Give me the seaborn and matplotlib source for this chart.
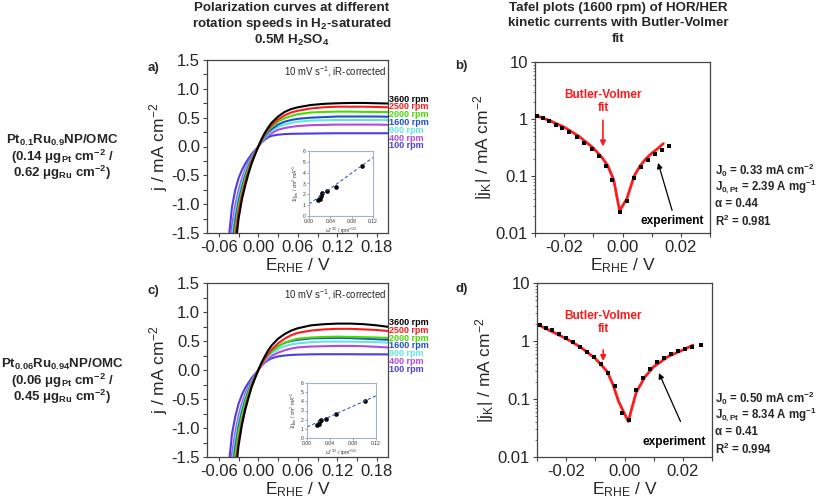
import numpy as np
import pandas as pd
import matplotlib
matplotlib.use("Agg")
import matplotlib.pyplot as plt
import seaborn as sns
from matplotlib.ticker import FixedLocator, FormatStrFormatter, LogLocator, NullFormatter, MultipleLocator

# ---------------- data ----------------
rpm_labels = ["3600 rpm", "2500 rpm", "2000 rpm", "1600 rpm", "900 rpm", "400 rpm", "100 rpm"]
rpm_colors = ["#000000", "#ff1a1a", "#44dd00", "#1f4fd0", "#5fe8e0", "#b448e6", "#4a3fe0"]

E_pol = [-0.05, -0.045, -0.04, -0.035, -0.03, -0.025, -0.02, -0.015, -0.01, -0.005, 0.0,
         0.005, 0.01, 0.015, 0.02, 0.03, 0.04, 0.05, 0.06, 0.08, 0.10, 0.12, 0.14, 0.16, 0.18, 0.20]

j_a_3600 = [-3.6, -2.9, -2.3, -1.75, -1.25, -0.92, -0.68, -0.47, -0.29, -0.14, 0.0,
            0.13, 0.24, 0.33, 0.41, 0.52, 0.60, 0.65, 0.68, 0.72, 0.74, 0.75, 0.755, 0.755, 0.75, 0.745]
j_a_2500 = [-3.3, -2.65, -2.05, -1.55, -1.13, -0.85, -0.62, -0.43, -0.26, -0.13, 0.0,
            0.12, 0.22, 0.30, 0.37, 0.47, 0.54, 0.59, 0.62, 0.66, 0.68, 0.69, 0.69, 0.69, 0.685, 0.68]
j_a_2000 = [-3.0, -2.4, -1.85, -1.40, -1.03, -0.77, -0.56, -0.38, -0.23, -0.115, 0.0,
            0.11, 0.20, 0.28, 0.34, 0.43, 0.49, 0.53, 0.56, 0.59, 0.60, 0.605, 0.605, 0.60, 0.60, 0.595]
j_a_1600 = [-2.8, -2.25, -1.72, -1.28, -0.95, -0.71, -0.51, -0.35, -0.21, -0.105, 0.0,
            0.10, 0.18, 0.25, 0.30, 0.38, 0.43, 0.46, 0.48, 0.50, 0.51, 0.52, 0.52, 0.52, 0.52, 0.515]
j_a_900 = [-2.6, -2.05, -1.55, -1.15, -0.85, -0.63, -0.45, -0.31, -0.19, -0.095, 0.0,
           0.09, 0.16, 0.22, 0.27, 0.34, 0.38, 0.41, 0.43, 0.45, 0.455, 0.46, 0.46, 0.46, 0.46, 0.455]
j_a_400 = [-2.45, -1.85, -1.38, -1.02, -0.76, -0.56, -0.40, -0.27, -0.165, -0.085, 0.0,
           0.08, 0.14, 0.19, 0.23, 0.29, 0.32, 0.34, 0.355, 0.37, 0.375, 0.38, 0.38, 0.38, 0.38, 0.375]
j_a_100 = [-2.25, -1.6, -1.05, -0.75, -0.55, -0.41, -0.30, -0.21, -0.13, -0.065, 0.0,
           0.07, 0.12, 0.16, 0.185, 0.205, 0.215, 0.22, 0.222, 0.225, 0.228, 0.23, 0.23, 0.23, 0.23, 0.23]

j_c_3600 = [-3.7, -3.0, -2.35, -1.80, -1.30, -0.95, -0.69, -0.48, -0.29, -0.14, 0.0,
            0.13, 0.24, 0.34, 0.42, 0.54, 0.62, 0.68, 0.72, 0.77, 0.79, 0.80, 0.80, 0.79, 0.77, 0.74]
j_c_2500 = [-3.5, -2.8, -2.2, -1.70, -1.22, -0.90, -0.66, -0.45, -0.27, -0.13, 0.0,
            0.11, 0.20, 0.28, 0.35, 0.46, 0.54, 0.60, 0.64, 0.68, 0.70, 0.71, 0.71, 0.70, 0.69, 0.67]
j_c_2000 = [-3.1, -2.5, -1.92, -1.45, -1.06, -0.79, -0.57, -0.39, -0.24, -0.12, 0.0,
            0.11, 0.19, 0.26, 0.32, 0.41, 0.47, 0.51, 0.54, 0.56, 0.57, 0.575, 0.57, 0.565, 0.56, 0.55]
j_c_1600 = [-2.9, -2.3, -1.78, -1.33, -0.98, -0.73, -0.53, -0.36, -0.22, -0.11, 0.0,
            0.11, 0.19, 0.26, 0.32, 0.41, 0.47, 0.50, 0.52, 0.545, 0.55, 0.555, 0.55, 0.54, 0.53, 0.52]
j_c_900 = [-2.7, -2.1, -1.62, -1.20, -0.88, -0.65, -0.47, -0.32, -0.20, -0.10, 0.0,
           0.10, 0.17, 0.23, 0.28, 0.36, 0.41, 0.44, 0.46, 0.48, 0.49, 0.49, 0.49, 0.485, 0.48, 0.47]
j_c_400 = [-2.5, -1.9, -1.45, -1.07, -0.79, -0.58, -0.42, -0.28, -0.17, -0.085, 0.0,
           0.08, 0.14, 0.19, 0.24, 0.30, 0.34, 0.37, 0.39, 0.405, 0.41, 0.415, 0.415, 0.41, 0.40, 0.385]
j_c_100 = [-2.3, -1.65, -1.10, -0.80, -0.58, -0.43, -0.31, -0.22, -0.135, -0.068, 0.0,
           0.08, 0.13, 0.17, 0.20, 0.235, 0.25, 0.26, 0.265, 0.27, 0.272, 0.272, 0.272, 0.27, 0.27, 0.268]

j_a_series = [j_a_3600, j_a_2500, j_a_2000, j_a_1600, j_a_900, j_a_400, j_a_100]
j_c_series = [j_c_3600, j_c_2500, j_c_2000, j_c_1600, j_c_900, j_c_400, j_c_100]

# Koutecky-Levich insets
kl_x_a = [0.0167, 0.0200, 0.0221, 0.0250, 0.0333, 0.0500, 0.1000]
kl_y_a = [1.50, 1.60, 1.80, 2.10, 2.35, 2.70, 4.60]
kl_fit_x_a = [0.0, 0.12]
kl_fit_y_a = [1.10, 5.40]
kl_x_c = [0.0167, 0.0200, 0.0221, 0.0250, 0.0333, 0.0500, 0.1000]
kl_y_c = [1.40, 1.50, 1.85, 2.00, 2.10, 2.60, 4.00]
kl_fit_x_c = [0.0, 0.12]
kl_fit_y_c = [1.20, 4.60]

# Tafel data (b)
E_exp_b = [-0.0294, -0.0273, -0.0251, -0.0229, -0.0206, -0.0182, -0.0157, -0.0131, -0.0106, -0.0082,
           -0.0058, -0.0035, -0.0010, 0.0015, 0.0038, 0.0063, 0.0087, 0.0112, 0.0137, 0.0161]
j_exp_b = [1.14, 1.04, 0.935, 0.80, 0.69, 0.585, 0.48, 0.377, 0.30, 0.226,
           0.151, 0.084, 0.0235, 0.0366, 0.092, 0.144, 0.193, 0.239, 0.288, 0.338]
E_fit_b = [-0.0300, -0.025, -0.020, -0.015, -0.010, -0.007, -0.005, -0.003, -0.001, 0.0015,
           0.004, 0.006, 0.008, 0.010, 0.012, 0.014]
j_fit_b = [1.17, 0.94, 0.72, 0.50, 0.31, 0.21, 0.15, 0.085, 0.0245, 0.040,
           0.100, 0.150, 0.200, 0.250, 0.300, 0.370]

# Tafel data (d)
E_exp_d = [-0.0290, -0.0269, -0.0247, -0.0224, -0.0200, -0.0177, -0.0154, -0.0130, -0.0105, -0.0082,
           -0.0058, -0.0034, -0.0010, 0.0015, 0.0039, 0.0063, 0.0087, 0.0112, 0.0135, 0.0160,
           0.0183, 0.0207, 0.0232, 0.0262]
j_exp_d = [1.87, 1.70, 1.53, 1.34, 1.14, 0.96, 0.80, 0.65, 0.53, 0.40,
           0.28, 0.166, 0.057, 0.043, 0.141, 0.231, 0.33, 0.44, 0.51, 0.60,
           0.67, 0.74, 0.80, 0.87]
E_fit_d = [-0.0300, -0.020, -0.015, -0.010, -0.006, -0.004, -0.002, 0.0013, 0.004, 0.007,
           0.010, 0.015, 0.020, 0.0235]
j_fit_d = [1.95, 1.10, 0.78, 0.50, 0.30, 0.18, 0.09, 0.041, 0.13, 0.24,
           0.36, 0.54, 0.70, 0.85]

params_b = ["J$_0$ = 0.33 mA cm$^{-2}$", "J$_{0,Pt}$ = 2.39 A mg$^{-1}$", "α = 0.44", "R$^2$ = 0.981"]
params_d = ["J$_0$ = 0.50 mA cm$^{-2}$", "J$_{0,Pt}$ = 8.34 A mg$^{-1}$", "α = 0.41", "R$^2$ = 0.994"]

sample_a = ["Pt$_{0.1}$Ru$_{0.9}$NP/OMC", "(0.14 μg$_{Pt}$ cm$^{-2}$ /", "0.62 μg$_{Ru}$ cm$^{-2}$)"]
sample_c = ["Pt$_{0.06}$Ru$_{0.94}$NP/OMC", "(0.06 μg$_{Pt}$ cm$^{-2}$ /", "0.45 μg$_{Ru}$ cm$^{-2}$)"]

title_left = ["Polarization curves at different", "rotation speeds in H$_2$-saturated", "0.5M H$_2$SO$_4$"]
title_right = ["Tafel plots (1600 rpm) of HOR/HER", "kinetic currents with Butler-Volmer", "fit"]

# ---------------- style ----------------
sns.set_theme(style="ticks")
plt.rcParams["font.family"] = ["Liberation Sans", "DejaVu Sans"]
plt.rcParams["mathtext.fontset"] = "custom"
plt.rcParams["mathtext.rm"] = "Liberation Sans"
plt.rcParams["mathtext.it"] = "Liberation Sans:italic"
plt.rcParams["mathtext.bf"] = "Liberation Sans:bold"
plt.rcParams["mathtext.default"] = "regular"
plt.rcParams["axes.unicode_minus"] = False

W, H = 817, 503
fig = plt.figure(figsize=(W / 100, H / 100), dpi=100)


def rect(x0, y0, x1, y1):
    return [x0 / W, 1 - y1 / H, (x1 - x0) / W, (y1 - y0) / H]


def style_axes(ax):
    for s in ax.spines.values():
        s.set_color("#444444")
        s.set_linewidth(0.9)
    ax.tick_params(which="both", direction="out", length=3, width=0.8, labelsize=12, pad=2,
                   color="#444444")


def pol_panel(ax, series, ins_rect, klx, kly, kfx, kfy):
    rows = []
    for lab, js in zip(rpm_labels, series):
        for e, j in zip(E_pol, js):
            rows.append({"E": e, "j": j, "rpm": lab})
    df = pd.DataFrame(rows)
    sns.lineplot(data=df, x="E", y="j", hue="rpm", palette=dict(zip(rpm_labels, rpm_colors)),
                 hue_order=rpm_labels[::-1], estimator=None, legend=False, lw=1.5, ax=ax)
    ax.set_xlim(-0.078, 0.197)
    ax.set_ylim(-1.5, 1.5)
    ax.xaxis.set_major_locator(FixedLocator([-0.06, 0.0, 0.06, 0.12, 0.18]))
    ax.xaxis.set_minor_locator(MultipleLocator(0.03))
    ax.xaxis.set_major_formatter(FormatStrFormatter("%.2f"))
    ax.yaxis.set_major_locator(FixedLocator([-1.5, -1.0, -0.5, 0.0, 0.5, 1.0, 1.5]))
    ax.yaxis.set_minor_locator(MultipleLocator(0.25))
    ax.yaxis.set_major_formatter(FormatStrFormatter("%.1f"))
    style_axes(ax)
    ax.set_xlabel("E$_{RHE}$ / V", fontsize=12.5, labelpad=1)
    ax.set_ylabel("j / mA cm$^{-2}$", fontsize=12.5, labelpad=1)
    ax.text(0.99, 0.975, "10 mV s$^{-1}$, iR-corrected", transform=ax.transAxes,
            ha="right", va="top", fontsize=6.9)
    # rpm labels at right
    y0 = 0.82
    for k, (lab, col) in enumerate(zip(rpm_labels, rpm_colors)):
        ax.text(1.003, y0 - k * 0.135, lab, transform=ax.get_yaxis_transform(),
                color=col, fontsize=6.5, fontweight="bold", ha="left", va="center", clip_on=False)
    # inset
    ins = fig.add_axes(ins_rect)
    sns.lineplot(x=kfx, y=kfy, ax=ins, color="#3a5fb0", lw=0.8, linestyle=(0, (3, 2)))
    sns.scatterplot(x=klx, y=kly, ax=ins, color="black", s=9, edgecolor="black", linewidth=0.3)
    ins.set_xlim(0, 0.12)
    ins.set_ylim(0, 6)
    ins.set_xticks([0.0, 0.04, 0.08, 0.12])
    ins.set_yticks([0, 1, 2, 3, 4, 5, 6])
    ins.xaxis.set_major_formatter(FormatStrFormatter("%.2f"))
    ins.tick_params(labelsize=3.6, length=1.5, width=0.4, pad=1, color="#555555", labelcolor="#333333")
    for s in ins.spines.values():
        s.set_color("#9fb3cc")
        s.set_linewidth(0.8)
    ins.set_xlabel("ω$^{-1/2}$ / rpm$^{-1/2}$", fontsize=3.6, labelpad=1, color="#333333")
    ins.set_ylabel("1/j$_{lim}$ / cm$^2$ mA$^{-1}$", fontsize=3.6, labelpad=1, color="#333333")
    return ax


def tafel_panel(ax, Ee, je, Ef, jf, bv_xy, bv_arrow, ex_xy, ex_arrow):
    sns.lineplot(x=Ef, y=jf, ax=ax, color="#ff1a1a", lw=2.0, sort=False)
    sns.scatterplot(x=Ee, y=je, ax=ax, marker="s", color="black", s=12, edgecolor="black",
                    linewidth=0, zorder=3)
    ax.set_yscale("log")
    ax.set_xlim(-0.03, 0.03)
    ax.set_ylim(0.01, 10)
    ax.xaxis.set_major_locator(FixedLocator([-0.02, 0.0, 0.02]))
    ax.xaxis.set_minor_locator(MultipleLocator(0.01))
    ax.xaxis.set_major_formatter(FormatStrFormatter("%.2f"))
    ax.yaxis.set_major_locator(FixedLocator([0.01, 0.1, 1, 10]))
    ax.yaxis.set_major_formatter(matplotlib.ticker.FuncFormatter(lambda v, p: f"{v:g}"))
    ax.yaxis.set_minor_locator(LogLocator(base=10, subs=np.arange(2, 10) * 1.0))
    ax.yaxis.set_minor_formatter(NullFormatter())
    style_axes(ax)
    ax.tick_params(axis="y", which="minor", direction="out", length=1.8, width=0.5, color="#444444")
    ax.set_xlabel("E$_{RHE}$ / V", fontsize=12.5, labelpad=1)
    ax.set_ylabel("|j$_K$| / mA cm$^{-2}$", fontsize=12.5, labelpad=1)
    ax.text(bv_xy[0], bv_xy[1], "Butler-Volmer\nfit", color="#ff1a1a", fontsize=8.6,
            fontweight="bold", ha="center", va="center", linespacing=1.1)
    ax.annotate("", xy=bv_arrow[1], xytext=bv_arrow[0],
                arrowprops=dict(arrowstyle="-|>", color="#ff1a1a", lw=1.2, mutation_scale=8,
                                shrinkA=0, shrinkB=0))
    ax.text(ex_xy[0], ex_xy[1], "experiment", color="black", fontsize=8.6,
            fontweight="bold", ha="center", va="center")
    ax.annotate("", xy=ex_arrow[1], xytext=ex_arrow[0],
                arrowprops=dict(arrowstyle="-|>", color="black", lw=0.9, mutation_scale=8,
                                shrinkA=0, shrinkB=0))


ax_a = fig.add_axes(rect(207, 60, 388, 233))
pol_panel(ax_a, j_a_series, [309 / W, 1 - 216 / H, 64 / W, 65 / H],
          kl_x_a, kl_y_a, kl_fit_x_a, kl_fit_y_a)
ax_c = fig.add_axes(rect(207, 283, 388, 457))
pol_panel(ax_c, j_c_series, [307 / W, 1 - 438 / H, 69 / W, 55 / H],
          kl_x_c, kl_y_c, kl_fit_x_c, kl_fit_y_c)

ax_b = fig.add_axes(rect(535, 62, 710, 233))
tafel_panel(ax_b, E_exp_b, j_exp_b, E_fit_b, j_fit_b,
            (-0.0067, 2.05), ((-0.0067, 0.95), (-0.0067, 0.33)),
            (0.0170, 0.0162), ((0.0170, 0.025), (0.0122, 0.17)))
ax_d = fig.add_axes(rect(537, 283, 712, 457))
tafel_panel(ax_d, E_exp_d, j_exp_d, E_fit_d, j_fit_d,
            (-0.0073, 2.06), ((-0.0073, 0.70), (-0.0073, 0.45)),
            (0.0170, 0.018), ((0.0192, 0.041), (0.0118, 0.28)))

# panel letters
for lab, x, y in [("a)", 148, 68), ("b)", 455, 66), ("c)", 148, 291), ("d)", 455, 289)]:
    fig.text(x / W, 1 - y / H, lab, fontsize=9.5, fontweight="bold", ha="left", va="center")

# titles, one line at a time
for k, t in enumerate(title_left):
    fig.text(292 / W, 1 - (8 + k * 16.2) / H, t, fontsize=9.6, fontweight="bold",
             ha="center", va="center")
for k, t in enumerate(title_right):
    fig.text(618 / W, 1 - (7.5 + k * 16) / H, t, fontsize=9.6, fontweight="bold",
             ha="center", va="center")

# sample labels, one line at a time
for k, t in enumerate(sample_a):
    fig.text(62 / W, 1 - (140 + k * 16.5) / H, t, fontsize=9.5, fontweight="bold",
             ha="center", va="center")
for k, t in enumerate(sample_c):
    fig.text(62 / W, 1 - (364 + k * 16.5) / H, t, fontsize=9.5, fontweight="bold",
             ha="center", va="center")

# parameter texts
for k, t in enumerate(params_b):
    fig.text(715 / W, 1 - (170 + k * 17) / H, t, fontsize=8.3, fontweight="bold", ha="left", va="center")
for k, t in enumerate(params_d):
    fig.text(715 / W, 1 - (398 + k * 17) / H, t, fontsize=8.3, fontweight="bold", ha="left", va="center")

fig.savefig("out.png", dpi=100)
